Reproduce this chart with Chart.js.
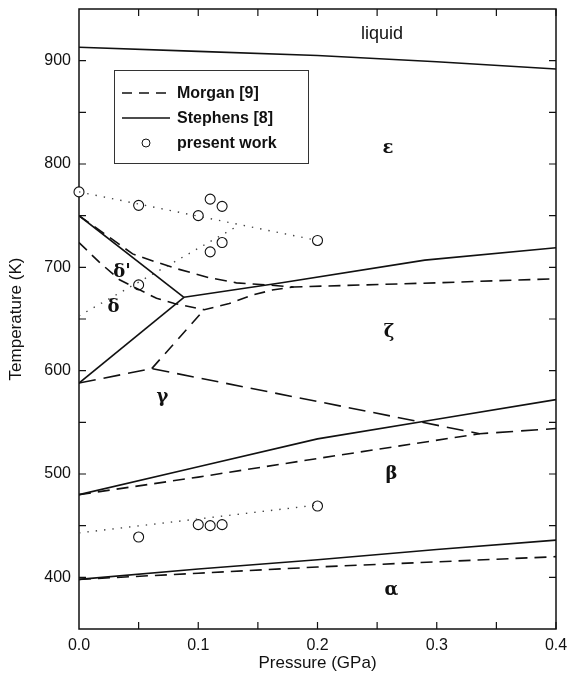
<!DOCTYPE html>
<html>
<head>
<meta charset="utf-8">
<script src="https://cdn.jsdelivr.net/npm/chart.js@4.4.1/dist/chart.umd.min.js"></script>
<style>
  html, body { margin: 0; padding: 0; background: #fff; }
  #wrap { width: 569px; height: 678px; }
</style>
</head>
<body>
<div id="wrap"><canvas id="phaseChart"></canvas></div>
<script>
// Stephens [8] phase boundaries, [pressure GPa, temperature K]
const stephensLiquidus = [[0, 913], [0.1, 909], [0.2, 905], [0.3, 899], [0.4, 892]];
const stephensDeltaEps = [[0, 750], [0.088, 671]];
const stephensDeltaGamma = [[0, 588], [0.088, 671]];
const stephensEpsZeta = [[0.088, 671], [0.17, 685], [0.29, 707], [0.4, 719]];
const stephensGammaBeta = [[0, 480], [0.1, 507], [0.2, 534], [0.3, 553], [0.4, 572]];
const stephensBetaAlpha = [[0, 398], [0.1, 408], [0.2, 417], [0.3, 427], [0.4, 436]];

// Morgan [9] phase boundaries
const morganDeltaEps = [[0, 750], [0.045, 713], [0.065, 705], [0.081, 699], [0.109, 690], [0.132, 685], [0.157, 683], [0.18, 681], [0.3, 685], [0.4, 689]];
const morganDeltaPrime = [[0, 724], [0.017, 705], [0.034, 688], [0.065, 670], [0.08, 665], [0.105, 659], [0.126, 665], [0.145, 673], [0.162, 678], [0.18, 681]];
const morganGammaZeta = [[0, 588], [0.061, 602], [0.336, 539], [0.4, 544]];
const morganGammaDelta = [[0.061, 602], [0.105, 659]];
const morganGammaBeta = [[0, 480], [0.1, 497], [0.2, 515], [0.336, 539]];
const morganBetaAlpha = [[0, 398], [0.1, 404], [0.2, 410], [0.3, 415], [0.4, 420]];

// present work: measured transitions and their dotted trend lines
const upperP = [0, 0.05, 0.1, 0.11, 0.12, 0.2];
const upperT = [773, 760, 750, 766, 759, 726];
const deltaP = [0.05, 0.11, 0.12];
const deltaT = [683, 715, 724];
const lowerP = [0.05, 0.1, 0.11, 0.12, 0.2];
const lowerT = [439, 451, 450, 451, 469];
const upperTrend = [[0, 773], [0.2, 726]];
const deltaTrend = [[0, 653], [0.13, 738]];
const lowerTrend = [[0, 443], [0.2, 470]];

// phase field names
const phaseNames = ["liquid", "ε", "ζ", "γ", "β", "α", "δ'", "δ"];
const phaseP = [0.254, 0.259, 0.26, 0.07, 0.262, 0.262, 0.036, 0.029];
const phaseT = [926, 815, 637, 574, 500, 387, 695, 661];

const xTicks = [0, 0.1, 0.2, 0.3, 0.4];
const yTicks = [400, 500, 600, 700, 800, 900];

const sans = "'Liberation Sans', Arial, Helvetica, sans-serif";
const ink = "#111";

const toXY = (pairs) => pairs.map(([x, y]) => ({ x, y }));
const zipXY = (xs, ys) => xs.map((x, i) => ({ x, y: ys[i] }));

function solid(pairs) {
  return { data: toXY(pairs), showLine: true, borderColor: ink, borderWidth: 1.6, pointRadius: 0, fill: false };
}

function dashed(pairs, dash) {
  return { data: toXY(pairs), showLine: true, borderColor: ink, borderWidth: 1.6, borderDash: dash || [12, 7], pointRadius: 0, fill: false };
}

function dotted(pairs) {
  return { data: toXY(pairs), showLine: true, borderColor: "#444", borderWidth: 1.4, borderDash: [1.4, 7], pointRadius: 0, fill: false };
}

function circles(xs, ys) {
  return {
    data: zipXY(xs, ys), showLine: false, pointRadius: 5, pointStyle: "circle",
    pointBackgroundColor: "#fff", pointBorderColor: ink, pointBorderWidth: 1.1, clip: false,
  };
}

// frame with inward ticks on all four sides
const frameTicks = {
  id: "frameTicks",
  beforeDatasetsDraw(chart) {
    const { ctx, chartArea: a, scales } = chart;
    const len = 7;
    ctx.save();
    ctx.strokeStyle = ink;
    ctx.lineWidth = 1.5;
    ctx.strokeRect(a.left, a.top, a.right - a.left, a.bottom - a.top);
    ctx.lineWidth = 1.2;
    ctx.beginPath();
    for (let p = 0.05; p < 0.4; p += 0.05) {
      const px = scales.x.getPixelForValue(p);
      ctx.moveTo(px, a.bottom); ctx.lineTo(px, a.bottom - len);
      ctx.moveTo(px, a.top); ctx.lineTo(px, a.top + len);
    }
    for (let t = 400; t < 950; t += 50) {
      const py = scales.y.getPixelForValue(t);
      ctx.moveTo(a.left, py); ctx.lineTo(a.left + len, py);
      ctx.moveTo(a.right, py); ctx.lineTo(a.right - len, py);
    }
    ctx.stroke();
    ctx.restore();
  },
  afterDraw(chart) {
    const { ctx, scales } = chart;
    ctx.save();
    ctx.fillStyle = ink;
    ctx.textAlign = "center";
    ctx.textBaseline = "middle";
    phaseNames.forEach((name, i) => {
      const px = scales.x.getPixelForValue(phaseP[i]);
      const py = scales.y.getPixelForValue(phaseT[i]);
      ctx.font = name === "liquid" ? `18px ${sans}` : "bold 18px 'DejaVu Serif', 'Liberation Serif', serif";
      ctx.fillText(name, px, py);
    });

    // legend box
    const bx = 114, by = 70, bw = 194, bh = 93;
    ctx.strokeStyle = "#333";
    ctx.lineWidth = 1;
    ctx.strokeRect(bx + 0.5, by + 0.5, bw, bh);
    const rows = [93, 118, 143];
    ctx.strokeStyle = ink;
    ctx.lineWidth = 1.6;
    ctx.setLineDash([10, 7]);
    ctx.beginPath(); ctx.moveTo(122, rows[0]); ctx.lineTo(170, rows[0]); ctx.stroke();
    ctx.setLineDash([]);
    ctx.beginPath(); ctx.moveTo(122, rows[1]); ctx.lineTo(170, rows[1]); ctx.stroke();
    ctx.lineWidth = 1;
    ctx.beginPath(); ctx.arc(146, rows[2], 4, 0, Math.PI * 2); ctx.stroke();
    ctx.font = `bold 16px ${sans}`;
    ctx.textAlign = "left";
    ["Morgan [9]", "Stephens [8]", "present work"].forEach((t, i) => ctx.fillText(t, 177, rows[i] + 1));
    ctx.restore();
  },
};

new Chart(document.getElementById("phaseChart"), {
  type: "scatter",
  data: {
    datasets: [
      solid(stephensLiquidus),
      solid(stephensDeltaEps),
      solid(stephensDeltaGamma),
      solid(stephensEpsZeta),
      solid(stephensGammaBeta),
      solid(stephensBetaAlpha),
      dashed(morganDeltaEps),
      dashed(morganDeltaPrime, [11, 7]),
      dashed(morganGammaZeta, [17, 8]),
      dashed(morganGammaDelta, [12, 8]),
      dashed(morganGammaBeta),
      dashed(morganBetaAlpha),
      dotted(upperTrend),
      dotted(deltaTrend),
      dotted(lowerTrend),
      circles(upperP, upperT),
      circles(deltaP, deltaT),
      circles(lowerP, lowerT),
    ],
  },
  options: {
    responsive: true,
    maintainAspectRatio: false,
    animation: false,
    layout: { padding: { top: 9, right: 13, left: 0, bottom: 0 } },
    plugins: { legend: { display: false }, tooltip: { enabled: false } },
    scales: {
      x: {
        type: "linear",
        min: 0,
        max: 0.4,
        afterFit: (s) => { s.height = 49; s.paddingLeft = 0; s.paddingRight = 0; },
        afterBuildTicks: (s) => { s.ticks = xTicks.map((v) => ({ value: v })); },
        grid: { display: false, drawTicks: false },
        border: { display: false },
        ticks: { padding: 7, color: ink, font: { family: sans, size: 16 }, callback: (v) => Number(v).toFixed(1) },
        title: { display: true, text: "Pressure (GPa)", color: ink, font: { family: sans, size: 17 }, padding: { top: 0, bottom: 4 } },
      },
      y: {
        type: "linear",
        min: 350,
        max: 950,
        afterFit: (s) => { s.width = 79; s.paddingTop = 0; s.paddingBottom = 0; },
        afterBuildTicks: (s) => { s.ticks = yTicks.map((v) => ({ value: v })); },
        grid: { display: false, drawTicks: false },
        border: { display: false },
        ticks: { padding: 8, color: ink, font: { family: sans, size: 16 } },
        title: { display: true, text: "Temperature (K)", color: ink, font: { family: sans, size: 17 }, padding: { top: 6, bottom: 0 } },
      },
    },
  },
  plugins: [frameTicks],
});
</script>
</body>
</html>
